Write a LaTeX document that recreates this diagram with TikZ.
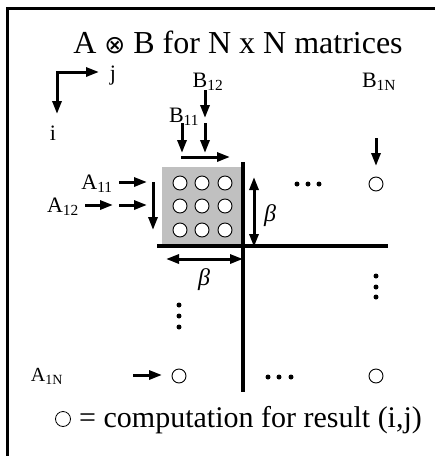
\documentclass[tikz,border=0pt]{standalone}
\usepackage{fontspec}
\setmainfont{Liberation Serif}
\newfontfamily\symfont{DejaVu Sans}
\usetikzlibrary{arrows.meta, positioning}
\definecolor{block}{RGB}{192, 192, 192}
\tikzset{
  tip/.tip={Triangle[length=13pt, width=9pt]},
  flow/.style={line width=3pt, -tip},
  both/.style={line width=3pt, tip-tip},
  bar/.style={line width=3.5pt},
  cell/.style={circle, draw, line width=0.9pt, fill=white, minimum size=14pt, inner sep=0pt},
  lbl/.style={font=\fontsize{22}{26}\selectfont, inner sep=0pt, anchor=base},
  dot/.style={circle, fill, minimum size=5pt, inner sep=0pt}
}

\begin{document}
\begin{tikzpicture}[x=1pt, y=-1pt]
  \useasboundingbox (0, 0) rectangle (435, 456);

  \draw[line width=3pt] (7, 456) -- (7, 8) -- (435, 8);

  \node[font=\fontsize{32}{38}\selectfont, inner sep=0pt, anchor=base] (title) at (238, 53)
    {A {\symfont\fontsize{25}{30}\selectfont ⊗} B for N x N matrices};

  % axes
  \coordinate (org) at (57, 72);
  \coordinate (iend) at (57, 114);
  \coordinate (jend) at (99, 72);
  \draw[both, line cap=butt] (iend) -- (org) -- (jend);
  \node[lbl] (j) at (113, 80) {j};
  \node[lbl] (i) at (53, 140) {i};

  % block of results
  \fill[block] (162, 167) rectangle (243, 246);
  \foreach \r/\y in {1/183, 2/206, 3/230} {
    \foreach \c/\x in {1/180, 2/202, 3/225} {
      \node[cell] (c\r\c) at (\x, \y) {};
    }
  }
  \node[cell] (c1N) at (376, 184) {};
  \node[cell] (cN1) at (179, 376) {};
  \node[cell] (cNN) at (376, 376) {};

  \draw[bar] (243, 162) -- (243, 392);
  \draw[bar] (157, 246) -- (388, 246);

  % B inputs
  \node[lbl] (b11) at (184, 122) {B\textsubscript{11}};
  \node[lbl] (b12) at (208, 87) {B\textsubscript{12}};
  \node[lbl] (b1N) at (379, 87) {B\textsubscript{1N}};
  \coordinate (b12a) at (205, 90);  \coordinate (b12b) at (205, 118);
  \coordinate (b12c) at (205, 123); \coordinate (b12d) at (205, 153);
  \coordinate (b11a) at (182, 123); \coordinate (b11b) at (182, 153);
  \coordinate (b1Na) at (376, 138); \coordinate (b1Nb) at (376, 166);
  \draw[flow] (b12a) -- (b12b);
  \draw[flow] (b12c) -- (b12d);
  \draw[flow] (b11a) -- (b11b);
  \draw[flow] (b1Na) -- (b1Nb);
  \coordinate (rowa) at (181, 157); \coordinate (rowb) at (230, 157);
  \draw[flow] (rowa) -- (rowb);

  % A inputs
  \node[lbl] (a11) at (97, 189) {A\textsubscript{11}};
  \node[lbl] (a12) at (63, 212) {A\textsubscript{12}};
  \node[lbl, font=\fontsize{20}{24}\selectfont] (a1N) at (47, 381) {A\textsubscript{1N}};
  \coordinate (a11a) at (119, 182); \coordinate (a11b) at (147, 182);
  \coordinate (a12a) at (85, 205);  \coordinate (a12b) at (113, 205);
  \coordinate (a12c) at (119, 205); \coordinate (a12d) at (147, 205);
  \coordinate (a1Na) at (133, 375); \coordinate (a1Nb) at (162, 375);
  \draw[flow] (a11a) -- (a11b);
  \draw[flow] (a12a) -- (a12b);
  \draw[flow] (a12c) -- (a12d);
  \draw[flow] (a1Na) -- (a1Nb);
  \coordinate (cola) at (153, 182); \coordinate (colb) at (153, 230);
  \draw[flow] (cola) -- (colb);

  % block size
  \coordinate (hta) at (254, 177); \coordinate (htb) at (254, 247);
  \coordinate (wda) at (166, 259); \coordinate (wdb) at (243, 259);
  \draw[both] (hta) -- (htb);
  \draw[both] (wda) -- (wdb);
  \node[font=\fontsize{24}{28}\selectfont\itshape, inner sep=0pt] (beta1) at (270, 216) {β};
  \node[font=\fontsize{24}{28}\selectfont\itshape, inner sep=0pt] (beta2) at (204, 280) {β};

  % elided entries
  \foreach \x in {297, 308, 319} { \node[dot] at (\x, 184) {}; }
  \foreach \x in {268, 279, 291} { \node[dot] at (\x, 377) {}; }
  \foreach \y in {276, 287, 297} { \node[dot] at (376, \y) {}; }
  \foreach \y in {305, 316, 327} { \node[dot] at (179, \y) {}; }

  % legend
  \node[cell, line width=0.8pt, minimum size=15pt] (key) at (63, 419) {};
  \node[font=\fontsize{30}{36}\selectfont, inner sep=0pt, anchor=base west] (keytext) at (79, 427)
    {= computation for result (i,j)};
\end{tikzpicture}
\end{document}
